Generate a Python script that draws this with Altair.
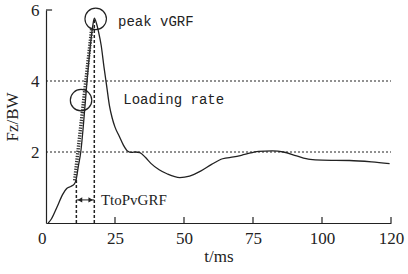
import altair as alt
import pandas as pd

# main curve (t in ms, Fz/BW)
t_vals = [0.8, 2, 4, 6, 7.5, 9, 10.3, 11, 11.7, 12.6, 13.5, 14.5, 15.9, 16.9, 17.5,
          18.3, 19, 20, 21, 22, 23, 24, 25, 26.5, 28, 29.5, 31, 32.5, 34, 36, 38, 41,
          44, 48.5, 52, 56, 60, 64, 68, 72, 77, 82, 86, 90.8, 95.7, 100, 110, 118, 124.5]
f_vals = [0.0, 0.12, 0.45, 0.8, 0.97, 1.03, 1.1, 1.25, 1.59, 2.0, 2.71, 3.65, 4.87, 5.53, 5.77,
          5.62, 5.4, 5.0, 4.4, 3.85, 3.3, 2.95, 2.7, 2.45, 2.2, 2.03, 1.99, 2.0, 1.98, 1.85, 1.68, 1.5,
          1.38, 1.28, 1.32, 1.46, 1.65, 1.81, 1.86, 1.93, 2.02, 2.03, 2.0, 1.89, 1.79, 1.77, 1.76, 1.72, 1.67]

# loading-rate hatched line
lr_t = [10.4, 16.6]
lr_f = [1.2, 5.5]

# vertical dashed markers
vmark_t = [11.0, 17.5]
vmark_f = [1.22, 5.77]

# horizontal reference lines
href_f = [2, 4]

# circles
circ_t = [18.0, 12.7]
circ_f = [5.75, 3.46]

# annotations
ann_text = ["peak vGRF", "Loading rate"]
ann_t = [26.1, 28.0]
ann_f = [5.65, 3.46]

x_tick_vals = [0, 25, 50, 75, 100, 125]
y_tick_vals = [2, 4, 6]

X = alt.Scale(domain=[0, 125], nice=False, zero=False)
Y = alt.Scale(domain=[0, 6], nice=False)
INK = "#222222"

AX = alt.Axis(values=x_tick_vals, ticks=False, tickSize=0, grid=False,
              labelExpr="datum.value == 125 ? '120' : datum.label",
              labelAlign={"condition": {"test": "datum.value == 0", "value": "right"}, "value": "center"},
              labelPadding=7, titlePadding=2)
AY = alt.Axis(values=y_tick_vals, ticks=False, tickSize=0, grid=False,
              labelPadding=7, titlePadding=9)
XT = "t/ms"
YT = "Fz/BW"


def xe(field):
    return alt.X(field, scale=X, axis=AX, title=XT)


def ye(field):
    return alt.Y(field, scale=Y, axis=AY, title=YT)


curve = alt.Chart(pd.DataFrame({"t": t_vals, "F": f_vals})).mark_line(
    color=INK, strokeWidth=1.3, interpolate="monotone"
).encode(x=xe("t:Q"), y=ye("F:Q"))

grid = alt.Chart(pd.DataFrame({"F": href_f, "a": [0, 0], "b": [125, 125]})).mark_rule(
    color=INK, strokeWidth=1, strokeDash=[2, 2]
).encode(x=xe("a:Q"), x2="b:Q", y=ye("F:Q"))

hatch = alt.Chart(pd.DataFrame({"t": lr_t, "F": lr_f})).mark_line(
    color="#333333", strokeWidth=3.5, strokeDash=[1.3, 1.3]
).encode(x=xe("t:Q"), y=ye("F:Q"))

vlines = alt.Chart(pd.DataFrame({"t": vmark_t, "F": vmark_f, "z": [0, 0]})).mark_rule(
    color=INK, strokeWidth=1.5, strokeDash=[3, 2]
).encode(x=xe("t:Q"), y=ye("z:Q"), y2="F:Q")

arrow_df = pd.DataFrame({"a": [vmark_t[0]], "b": [vmark_t[1]], "F": [0.65]})
arrow = alt.Chart(arrow_df).mark_rule(color=INK, strokeWidth=1).encode(
    x=xe("a:Q"), x2="b:Q", y=ye("F:Q"))
heads = alt.Chart(pd.DataFrame({"t": [12.3, 16.2], "F": [0.65, 0.65],
                                "s": ["triangle-left", "triangle-right"]})).mark_point(
    filled=True, color=INK, size=28, opacity=1
).encode(x=xe("t:Q"), y=ye("F:Q"), shape=alt.Shape("s:N", scale=None))

tto = alt.Chart(pd.DataFrame({"t": [19.9], "F": [0.65], "txt": ["TtoPvGRF"]})).mark_text(
    align="left", baseline="middle", font="Liberation Serif", fontSize=15, color=INK
).encode(x=xe("t:Q"), y=ye("F:Q"), text="txt:N")

circles = alt.Chart(pd.DataFrame({"t": circ_t, "F": circ_f})).mark_point(
    shape="circle", filled=False, size=460, color=INK, strokeWidth=1.2, opacity=1
).encode(x=xe("t:Q"), y=ye("F:Q"))

ann = alt.Chart(pd.DataFrame({"t": ann_t, "F": ann_f, "txt": ann_text})).mark_text(
    align="left", baseline="middle", font="Liberation Mono", fontSize=14, color=INK
).encode(x=xe("t:Q"), y=ye("F:Q"), text="txt:N")

# inward ticks
xt = alt.Chart(pd.DataFrame({"t": x_tick_vals[1:], "z": [0] * 5, "h": [0.17] * 5})).mark_rule(
    color=INK, strokeWidth=1.2
).encode(x=xe("t:Q"), y=ye("z:Q"), y2="h:Q")
yt = alt.Chart(pd.DataFrame({"a": [0], "b": [2.2], "F": [6]})).mark_rule(
    color=INK, strokeWidth=1.2
).encode(x=xe("a:Q"), x2="b:Q", y=ye("F:Q"))

chart = alt.layer(curve, grid, hatch, vlines, arrow, heads, tto, circles, ann, xt, yt).properties(
    width=345, height=213,
    autosize=alt.AutoSizeParams(type="none"),
    padding={"left": 46, "top": 10, "right": 17, "bottom": 51},
).configure_view(stroke=None).configure_axis(
    domainColor=INK, domainWidth=1.2,
    labelFont="Liberation Serif", labelFontSize=17, labelColor=INK,
    titleFont="Liberation Serif", titleFontSize=17, titleFontWeight="normal", titleColor=INK,
)

chart.save("out.html", embed_options={"renderer": "svg", "actions": False})
